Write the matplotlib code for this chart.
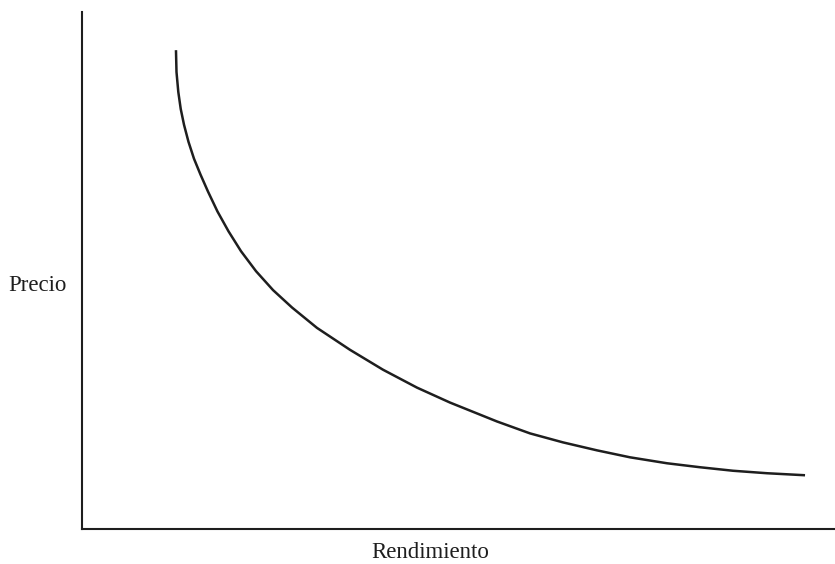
import matplotlib
matplotlib.use("Agg")
import matplotlib.pyplot as plt

# curva precio-rendimiento (unidades arbitrarias 0-100)
rendimiento = [12.48, 12.55, 12.79, 13.11, 13.55, 14.14, 14.87, 15.74, 16.73,
               17.99, 19.46, 21.12, 23.11, 25.37, 27.89, 31.21, 35.59, 39.97,
               44.49, 48.87, 55.11, 59.50, 63.88, 68.39, 72.78, 77.69, 82.07,
               86.45, 90.97, 96.02]
precio = [92.68, 88.44, 84.59, 81.31, 78.23, 74.95, 71.68, 68.59, 65.32,
          61.46, 57.61, 53.76, 49.90, 46.24, 42.87, 38.92, 34.68, 30.83,
          27.36, 24.47, 20.81, 18.50, 16.76, 15.22, 13.87, 12.72, 11.95,
          11.27, 10.79, 10.40]

plt.rcParams['font.family'] = ['Liberation Serif', 'DejaVu Serif']

fig = plt.figure(figsize=(8.35, 5.64), dpi=100)
ax = fig.add_axes([0.0982, 0.0621, 0.9018, 0.9160])

ax.plot(rendimiento, precio, color='#1e1e1e', linewidth=1.8,
        solid_joinstyle='round', solid_capstyle='butt')

ax.set_xlim(0, 100)
ax.set_ylim(0, 100)
ax.set_xticks([])
ax.set_yticks([])
ax.spines['top'].set_visible(False)
ax.spines['right'].set_visible(False)
for s in ['left', 'bottom']:
    ax.spines[s].set_linewidth(1.5)
    ax.spines[s].set_color('#1e1e1e')

fig.text(430 / 835, 1 - 558 / 564, "Rendimiento", fontsize=16.5,
         ha='center', va='baseline', color='#1e1e1e')
fig.text(8 / 835, 1 - 291 / 564, "Precio", fontsize=16.5,
         ha='left', va='baseline', color='#1e1e1e')

fig.savefig("out.png", dpi=100)
